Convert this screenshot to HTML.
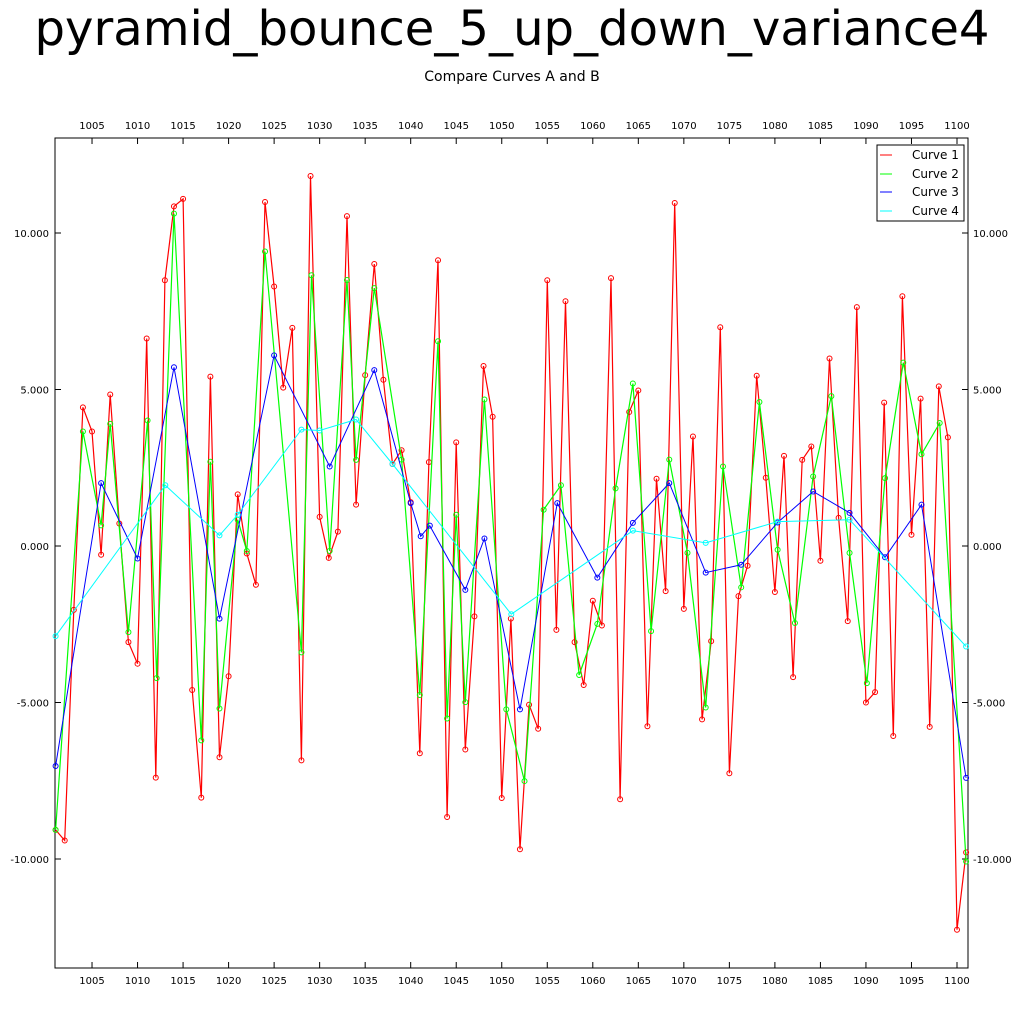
<!DOCTYPE html>
<html><head><meta charset="utf-8"><style>
body{margin:0;background:#fff;}
svg text{font-family:"DejaVu Sans","Liberation Sans",sans-serif;}
</style></head><body>
<svg id="chart" width="1024" height="1024" xmlns="http://www.w3.org/2000/svg">
<text x="512" y="45" text-anchor="middle" font-size="48" textLength="955" lengthAdjust="spacingAndGlyphs">pyramid_bounce_5_up_down_variance4</text>
<text x="512" y="81" text-anchor="middle" font-size="14">Compare Curves A and B</text>
<rect x="55" y="138" width="913" height="830" fill="none" stroke="#000" stroke-width="1"/>
<g id="axes"></g>
<g id="series"></g>
<g>
<rect x="877" y="145" width="87" height="76" fill="#fff" stroke="#000"/>
<g><line x1="880" y1="155" x2="892" y2="155" stroke="#f00"/><text x="912" y="159" font-size="12">Curve 1</text></g>
<g><line x1="880" y1="174" x2="892" y2="174" stroke="#0f0"/><text x="912" y="178" font-size="12">Curve 2</text></g>
<g><line x1="880" y1="192" x2="892" y2="192" stroke="#00f"/><text x="912" y="196" font-size="12">Curve 3</text></g>
<g><line x1="880" y1="211" x2="892" y2="211" stroke="#0ff"/><text x="912" y="215" font-size="12">Curve 4</text></g>
</g>
</svg>
<script>
const xTicks=[1005,1010,1015,1020,1025,1030,1035,1040,1045,1050,1055,1060,1065,1070,1075,1080,1085,1090,1095,1100];
const yTicks=[10,5,0,-5,-10];
const yTickLabels=["10.000","5.000","0.000","-5.000","-10.000"];
const c1x=[1001,1002,1003,1004,1005,1006,1007,1008,1009,1010,1011,1012,1013,1014,1015,1016,1017,1018,1019,1020,1021,1022,1023,1024,1025,1026,1027,1028,1029,1030,1031,1032,1033,1034,1035,1036,1037,1038,1039,1040,1041,1042,1043,1044,1045,1046,1047,1048,1049,1050,1051,1052,1053,1054,1055,1056,1057,1058,1059,1060,1061,1062,1063,1064,1065,1066,1067,1068,1069,1070,1071,1072,1073,1074,1075,1076,1077,1078,1079,1080,1081,1082,1083,1084,1085,1086,1087,1088,1089,1090,1091,1092,1093,1094,1095,1096,1097,1098,1099,1100,1101];
const c1y=[-9.07,-9.41,-2.04,4.43,3.66,-0.28,4.84,0.72,-3.07,-3.76,6.63,-7.40,8.49,10.85,11.09,-4.60,-8.04,5.41,-6.75,-4.16,1.65,-0.24,-1.24,10.99,8.29,5.06,6.97,-6.85,11.82,0.93,-0.38,0.46,10.54,1.32,5.46,9.01,5.31,2.62,3.06,1.40,-6.62,2.68,9.13,-8.66,3.31,-6.50,-2.25,5.75,4.13,-8.05,-2.32,-9.69,-5.07,-5.84,8.49,-2.68,7.82,-3.07,-4.44,-1.75,-2.54,8.56,-8.09,4.28,4.97,-5.76,2.15,-1.44,10.96,-2.01,3.50,-5.54,-3.04,6.99,-7.26,-1.60,-0.63,5.44,2.18,-1.47,2.88,-4.19,2.75,3.18,-0.47,5.99,0.90,-2.40,7.63,-5.00,-4.67,4.58,-6.07,7.98,0.36,4.71,-5.78,5.10,3.47,-12.26,-9.79];
const c2x=[1001,1004,1006,1007,1009,1011.1,1012.1,1014,1017,1018,1019,1021,1022,1024,1028,1029.1,1031.1,1033,1034,1036,1039,1041,1043,1044,1045,1046,1048.1,1050.5,1052.5,1054.6,1056.5,1058.5,1060.5,1062.5,1064.4,1066.4,1068.4,1070.4,1072.4,1074.3,1076.3,1078.3,1080.3,1082.2,1084.2,1086.2,1088.2,1090.1,1092.1,1094.1,1096.1,1098.1,1101];
const c2y=[-9.07,3.66,0.66,3.90,-2.75,4.01,-4.22,10.62,-6.21,2.69,-5.19,0.84,-0.16,9.41,-3.40,8.65,-0.16,8.50,2.75,8.24,2.76,-4.76,6.54,-5.51,1.0,-4.99,4.68,-5.22,-7.51,1.16,1.94,-4.12,-2.49,1.84,5.19,-2.72,2.76,-0.22,-5.16,2.54,-1.32,4.60,-0.12,-2.46,2.22,4.79,-0.22,-4.38,2.17,5.86,2.93,3.93,-10.08];
const c3x=[1001,1006,1010,1014,1019,1025,1031.1,1036,1040,1041.1,1042.1,1046,1048.1,1052,1056.1,1060.5,1064.4,1068.4,1072.4,1076.3,1080.3,1084.2,1088.2,1092.1,1096.1,1101];
const c3y=[-7.03,2.01,-0.40,5.71,-2.32,6.09,2.54,5.62,1.37,0.31,0.65,-1.40,0.24,-5.22,1.37,-1.01,0.74,2.01,-0.85,-0.60,0.75,1.74,1.06,-0.36,1.32,-7.41];
const c4x=[1001,1013.05,1019,1021,1028,1030,1034,1038,1051.05,1064.4,1072.4,1080.3,1088.2,1101];
const c4y=[-2.88,1.94,0.34,1.0,3.72,3.69,4.04,2.62,-2.18,0.49,0.10,0.78,0.84,-3.21];

const NS="http://www.w3.org/2000/svg";
function X(d){return 55.6+(d-1001)*9.105;}
function Y(v){return 546-v*31.3;}
function mk(tag,attrs,parent){const e=document.createElementNS(NS,tag);for(const k in attrs)e.setAttribute(k,attrs[k]);parent.appendChild(e);return e;}
const axes=document.getElementById('axes');
xTicks.forEach(t=>{
  const x=X(t);
  const b=mk('line',{x1:x,y1:968,x2:x,y2:962,stroke:'#000'},axes);
  
  
  const tp=mk('line',{x1:x,y1:138,x2:x,y2:144,stroke:'#000'},axes);
  
  
  const l1=mk('text',{x:x,y:984,'text-anchor':'middle','font-size':'10'},axes);l1.textContent=t;
  
  
  const l2=mk('text',{x:x,y:129,'text-anchor':'middle','font-size':'10'},axes);l2.textContent=t;
  
  
});
yTicks.forEach((t,i)=>{
  const y=Y(t);
  const a=mk('line',{x1:55,y1:y,x2:61,y2:y,stroke:'#000'},axes);
  
  
  const b=mk('line',{x1:962,y1:y,x2:968,y2:y,stroke:'#000'},axes);
  
  
  const l1=mk('text',{x:49,y:y+4,'text-anchor':'end','font-size':'10'},axes);l1.textContent=yTickLabels[i];
  
  
  const l2=mk('text',{x:973,y:y+4,'text-anchor':'start','font-size':'10'},axes);l2.textContent=yTickLabels[i];
  
  
});
const series=document.getElementById('series');
function draw(xs,ys,color,name,w){
  const g=mk('g',{},series);
  
  
  const pts=xs.map((d,i)=>X(d).toFixed(1)+','+Y(ys[i]).toFixed(1)).join(' ');
  const pl=mk('polyline',{points:pts,fill:'none',stroke:color,'stroke-width':w},g);
  
  
  xs.forEach((d,i)=>{
    const c=mk('circle',{cx:X(d),cy:Y(ys[i]),r:2.5,fill:'none',stroke:color,'stroke-width':1},g);
    
    
  });
}
draw(c1x,c1y,'#f00','curve-1',1.2);
draw(c2x,c2y,'#0f0','curve-2',1.2);
draw(c3x,c3y,'#00f','curve-3',1);
draw(c4x,c4y,'#0ff','curve-4',1);
</script>
</body></html>
